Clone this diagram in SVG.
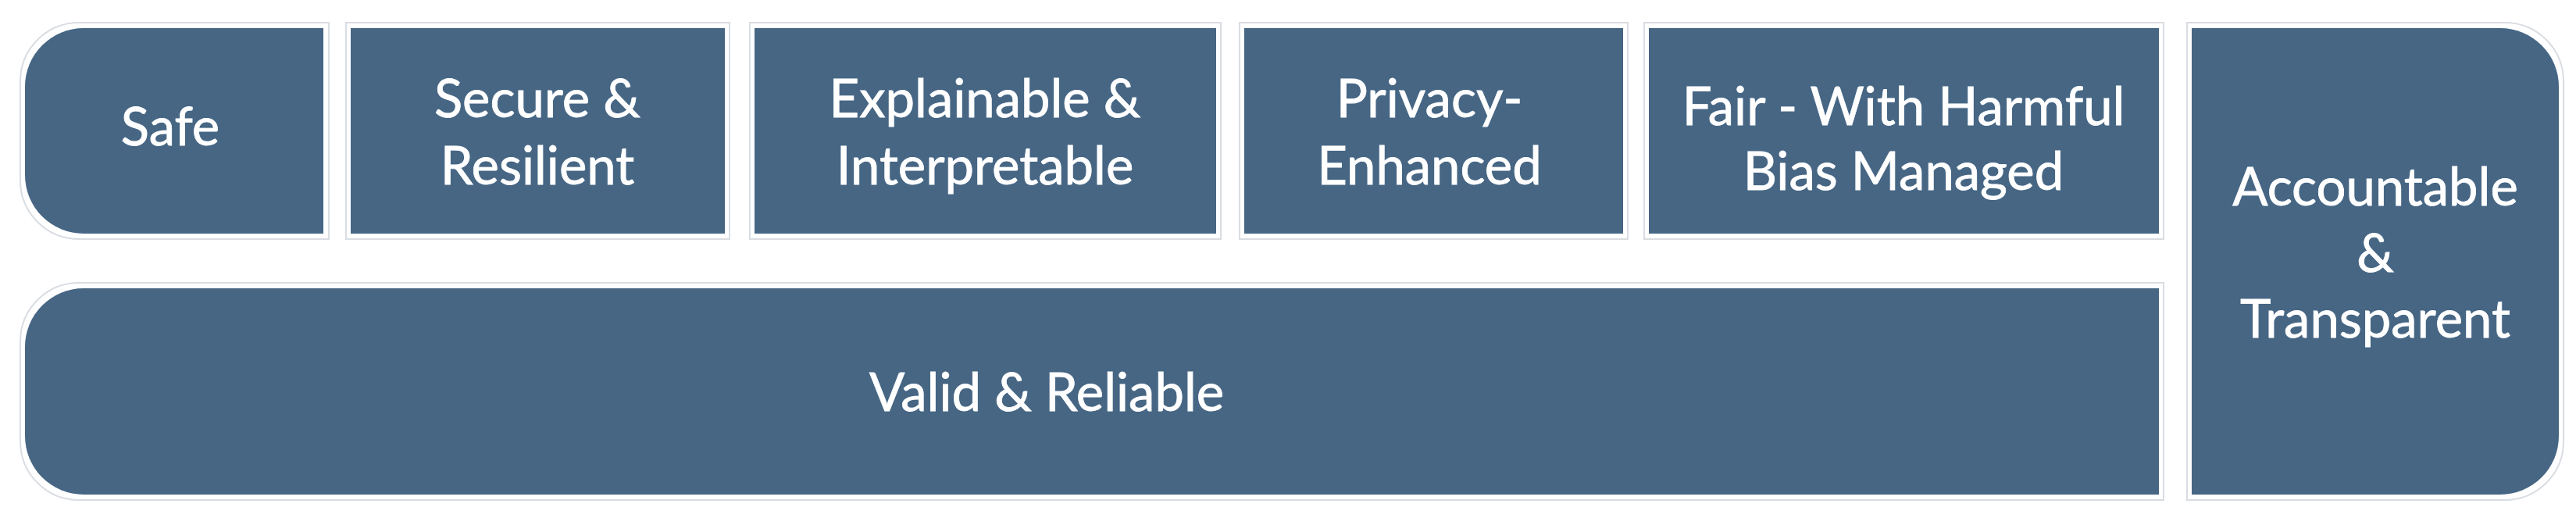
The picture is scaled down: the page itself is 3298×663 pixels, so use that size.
<svg xmlns="http://www.w3.org/2000/svg" width="3298" height="663" viewBox="0 0 3298 663">
<style>
.o{fill:#fff;stroke:#d9dde2;stroke-width:2}
.b{fill:#466684}
.t{font-family:Lato,"Open Sans",sans-serif;font-size:67px;fill:#fff;text-anchor:middle;stroke:#fff;stroke-width:0.8}
</style>
<rect width="3298" height="663" fill="#fff"/>
<g id="safe">
<path class="o" d="M101,29 H421 V306 H101 A75,75 0 0 1 26,231 V104 A75,75 0 0 1 101,29 Z"/>
<path class="b" d="M107,36 H414 V299 H107 A75,75 0 0 1 32,224 V111 A75,75 0 0 1 107,36 Z"/>
<text class="t" x="218" y="186">Safe</text>
</g>
<g id="secure">
<rect class="o" x="443" y="29" width="491" height="277"/>
<rect class="b" x="449" y="36" width="479" height="263"/>
<text class="t" x="688" y="150">Secure &amp;</text>
<text class="t" x="688" y="236">Resilient</text>
</g>
<g id="explainable">
<rect class="o" x="960" y="29" width="603" height="277"/>
<rect class="b" x="966" y="36" width="591" height="263"/>
<text class="t" x="1261" y="150">Explainable &amp;</text>
<text class="t" x="1261" y="236">Interpretable</text>
</g>
<g id="privacy">
<rect class="o" x="1587" y="29" width="497" height="277"/>
<rect class="b" x="1593" y="36" width="485" height="263"/>
<text class="t" x="1830" y="150">Privacy-</text>
<text class="t" x="1830" y="236">Enhanced</text>
</g>
<g id="fair">
<rect class="o" x="2105" y="29" width="665" height="277"/>
<rect class="b" x="2111" y="36" width="653" height="263"/>
<text class="t" x="2437" y="160">Fair - With Harmful</text>
<text class="t" x="2437" y="243">Bias Managed</text>
</g>
<g id="valid">
<path class="o" d="M101,362 H2770 V640 H101 A75,75 0 0 1 26,565 V437 A75,75 0 0 1 101,362 Z"/>
<path class="b" d="M107,369 H2764 V633 H107 A75,75 0 0 1 32,558 V444 A75,75 0 0 1 107,369 Z"/>
<text class="t" x="1340" y="526">Valid &amp; Reliable</text>
</g>
<g id="accountable">
<path class="o" d="M2800,29 H3207 A75,75 0 0 1 3282,104 V565 A75,75 0 0 1 3207,640 H2800 Z"/>
<path class="b" d="M2806,36 H3201 A75,75 0 0 1 3276,111 V558 A75,75 0 0 1 3201,633 H2806 Z"/>
<text class="t" x="3041" y="263">Accountable</text>
<text class="t" x="3041" y="348">&amp;</text>
<text class="t" x="3041" y="432">Transparent</text>
</g>
<g id="connectors"/>
</svg>
